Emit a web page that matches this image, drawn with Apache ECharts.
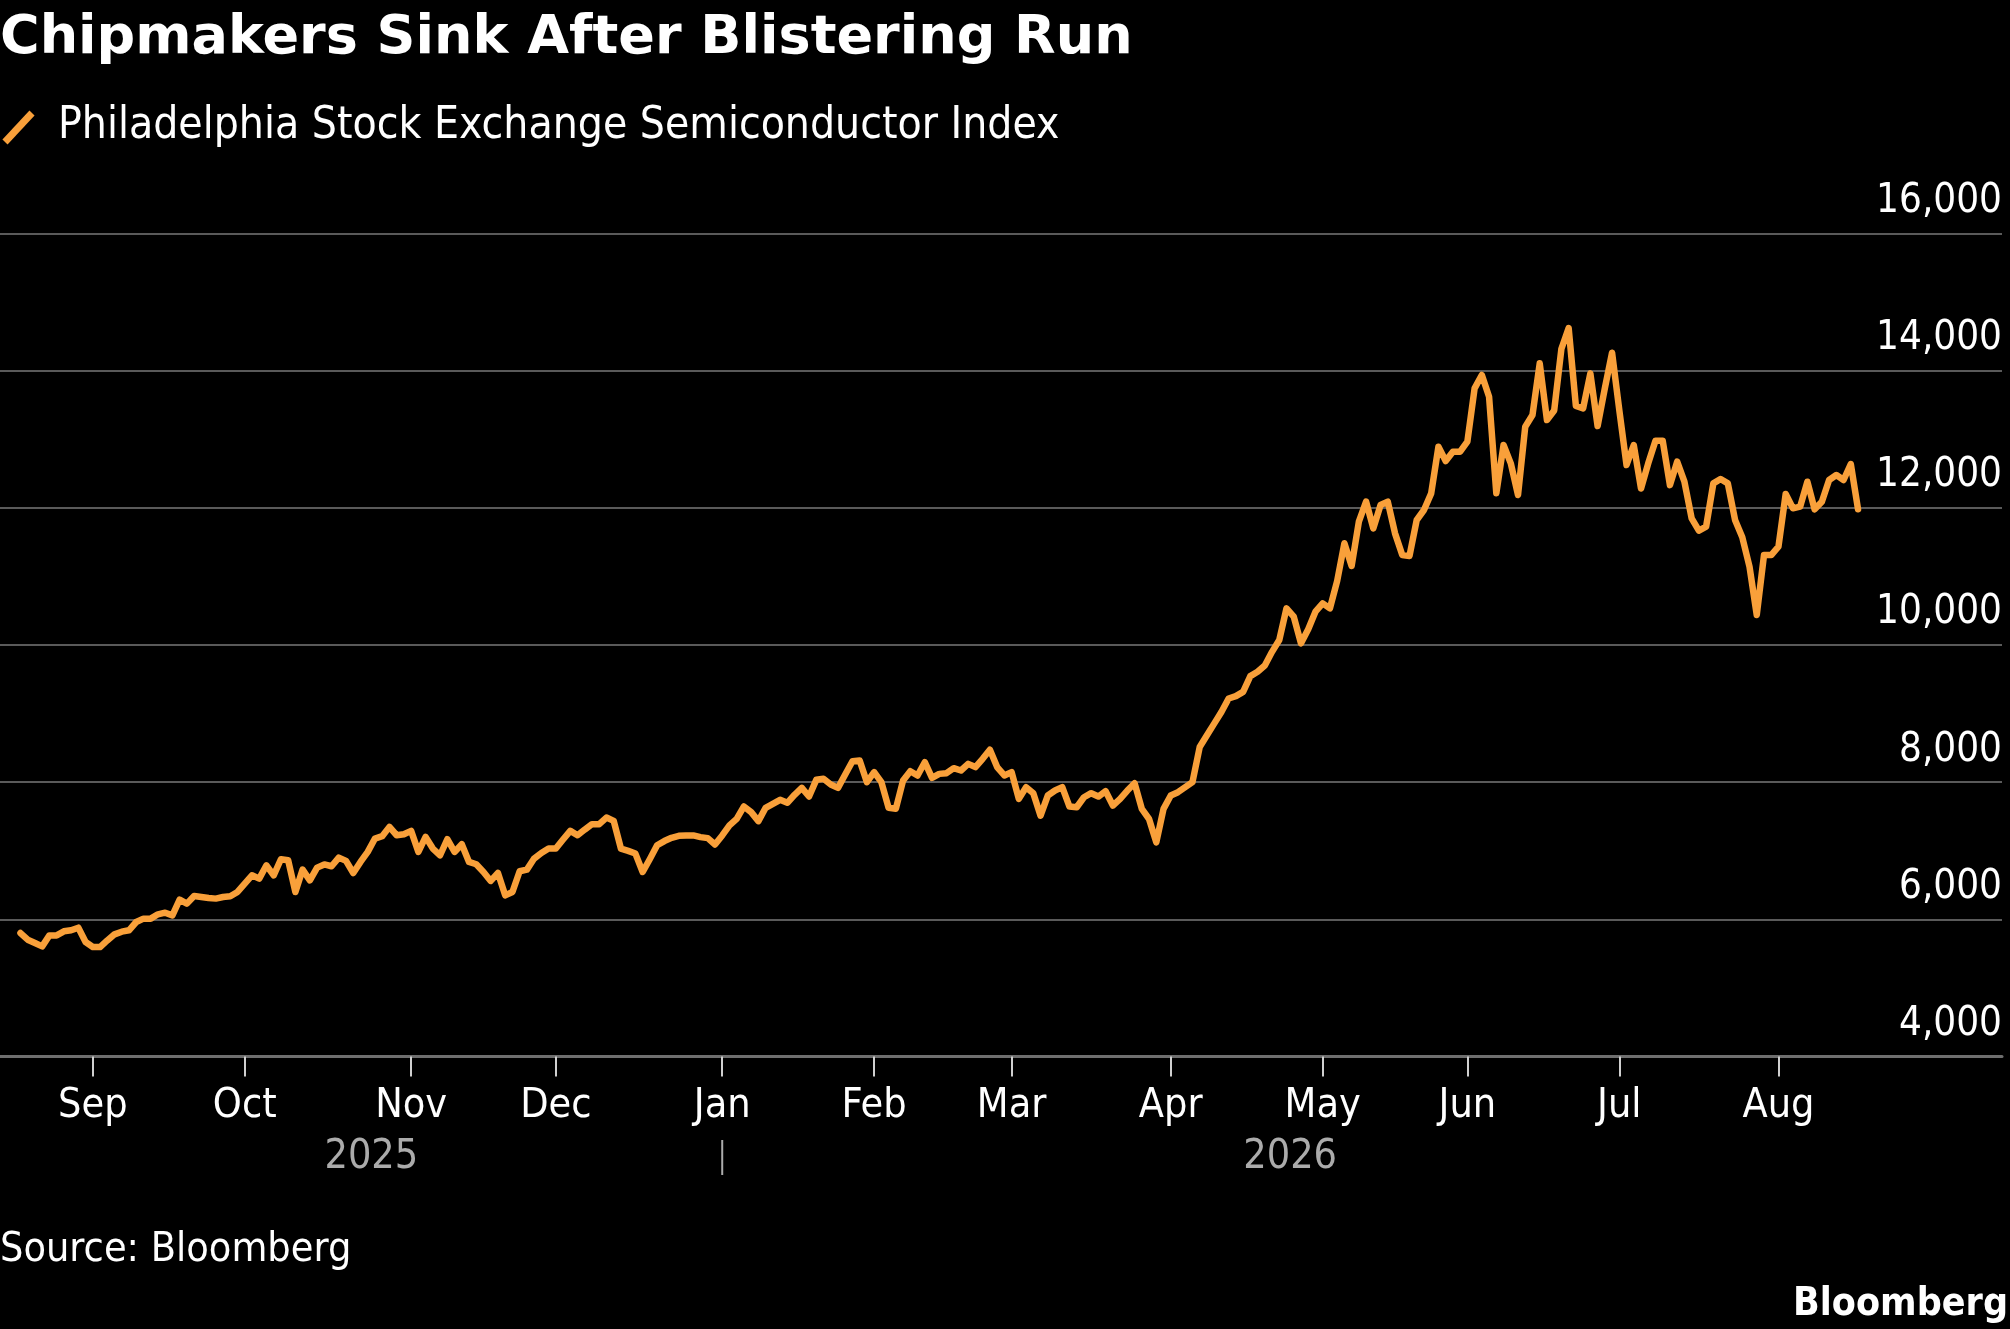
<!DOCTYPE html>
<html>
<head>
<meta charset="utf-8">
<title>Chipmakers Sink After Blistering Run</title>
<script src="https://cdn.jsdelivr.net/npm/echarts@6.0.0/dist/echarts.min.js"></script>
<style>
  html, body { margin: 0; padding: 0; background: #000; }
  #main { width: 2010px; height: 1329px; }
</style>
</head>
<body>
<div id="main"></div>
<script>
// trading days: weekdays from first to last date, minus market holidays
var firstDay = '2025-08-18';
var lastDay = '2026-08-18';
var holidays = ['2025-09-01', '2026-01-01', '2026-02-16', '2026-04-03', '2026-05-25', '2026-06-19', '2026-07-03'];
var monthNames = ['Jan', 'Feb', 'Mar', 'Apr', 'May', 'Jun', 'Jul', 'Aug', 'Sep', 'Oct', 'Nov', 'Dec'];
var yearLabels = ['2025', '2026'];
var yTicks = [4000, 6000, 8000, 10000, 12000, 14000, 16000];

// Philadelphia Stock Exchange Semiconductor Index, daily close
var sox = [
  5800, 5703, 5655, 5606, 5766, 5766, 5825, 5840, 5878, 5669,
  5596, 5596, 5693, 5781, 5820, 5840, 5961, 6010, 6010, 6073,
  6097, 6058, 6287, 6229, 6341, 6326, 6311, 6302, 6326, 6336,
  6399, 6521, 6642, 6594, 6788, 6642, 6876, 6861, 6399, 6725,
  6569, 6754, 6800, 6774, 6900, 6852, 6676, 6837, 6983, 7178,
  7212, 7348, 7226, 7241, 7290, 6983, 7202, 7032, 6934, 7168,
  6983, 7095, 6837, 6803, 6691, 6560, 6676, 6350, 6399, 6701,
  6725, 6886, 6968, 7032, 7032, 7163, 7290, 7226, 7309, 7387,
  7387, 7484, 7436, 7032, 6998, 6959, 6690, 6880, 7080, 7141,
  7189, 7218, 7223, 7223, 7199, 7184, 7092, 7223, 7369, 7466,
  7646, 7563, 7432, 7626, 7684, 7743, 7699, 7816, 7917, 7791,
  8034, 8049, 7966, 7917, 8112, 8306, 8316, 8000, 8146, 8000,
  7626, 7612, 8024, 8160, 8097, 8291, 8063, 8121, 8131, 8204,
  8170, 8267, 8220, 8341, 8473, 8220, 8098, 8146, 7756, 7927,
  7839, 7512, 7805, 7878, 7927, 7644, 7634, 7780, 7839, 7790,
  7868, 7659, 7756, 7878, 7985, 7610, 7463, 7122, 7610, 7805,
  7854, 7927, 8000, 8512, 8683, 8854, 9024, 9220, 9254, 9317,
  9546, 9610, 9700, 9900, 10073, 10535, 10413, 10024, 10229, 10486,
  10608, 10535, 10933, 11483, 11152, 11798, 12090, 11701, 12041, 12090,
  11628, 11312, 11298, 11823, 11968, 12211, 12892, 12683, 12819, 12819,
  12965, 13742, 13937, 13621, 12211, 12916, 12649, 12187, 13183, 13354,
  14107, 13281, 13420, 14320, 14620, 13485, 13451, 13961, 13193, 13742,
  14262, 13426, 12625, 12916, 12282, 12649, 12979, 12979, 12331, 12673,
  12381, 11847, 11667, 11726, 12357, 12420, 12357, 11823, 11570, 11142,
  10438, 11312, 11312, 11434, 12202, 11993, 12017, 12381, 11978, 12090,
  12406, 12479, 12406, 12639, 11978
];

var dates = [];
var t = Date.parse(firstDay + 'T00:00:00Z');
var tEnd = Date.parse(lastDay + 'T00:00:00Z');
while (t <= tEnd) {
    var d = new Date(t);
    var s = d.toISOString().slice(0, 10);
    if (d.getUTCDay() !== 0 && d.getUTCDay() !== 6 && holidays.indexOf(s) < 0) {
        dates.push(s);
    }
    t += 86400000;
}

// first trading day of each month gets a tick
var monthTicks = [];
var janIndex = -1;
for (var i = 1; i < dates.length; i++) {
    if (dates[i].slice(5, 7) !== dates[i - 1].slice(5, 7)) {
        monthTicks.push(i);
        if (dates[i].slice(5, 7) === '01') janIndex = i;
    }
}

var lineData = sox.map(function (v, i) { return [i, v]; });

var condensed = "'DejaVu Sans Condensed', 'DejaVu Sans', sans-serif";
var orange = '#f9a03a';

var myChart = echarts.init(document.getElementById('main'));
myChart.setOption({
    backgroundColor: '#000',
    animation: false,
    grid: {left: 0, right: 8, top: 233.5, bottom: 272.5},
    xAxis: {
        type: 'value',
        min: -2.83,
        max: 273.9,
        splitLine: {show: false},
        axisLine: {show: true, lineStyle: {color: '#6e6e6e', width: 3}},
        axisTick: {
            show: true,
            customValues: monthTicks,
            length: 20,
            lineStyle: {color: '#d0d0d0', width: 2}
        },
        axisLabel: {
            customValues: monthTicks,
            margin: 29,
            color: '#fff',
            fontFamily: condensed,
            fontSize: 41,
            formatter: function (v) {
                return monthNames[parseInt(dates[Math.round(v)].slice(5, 7), 10) - 1];
            }
        }
    },
    yAxis: {
        type: 'value',
        position: 'right',
        min: yTicks[0],
        max: yTicks[yTicks.length - 1],
        interval: 2000,
        axisLine: {show: false},
        axisTick: {show: false},
        splitLine: {lineStyle: {color: '#5a5a5a', width: 2}},
        axisLabel: {
            inside: true,
            margin: 0,
            color: '#fff',
            fontFamily: condensed,
            fontSize: 40,
            verticalAlign: 'bottom',
            lineHeight: 64,
            formatter: function (v) { return v.toLocaleString('en-US'); }
        }
    },
    series: [{
        name: 'Philadelphia Stock Exchange Semiconductor Index',
        type: 'line',
        data: lineData,
        showSymbol: false,
        symbol: 'none',
        lineStyle: {color: orange, width: 6.5, join: 'round', cap: 'round'}
    }]
});

// year labels under the month labels, centred on each year's span of data
var x0 = myChart.convertToPixel({xAxisIndex: 0}, 0);
var xJan = myChart.convertToPixel({xAxisIndex: 0}, janIndex);
var xEnd = myChart.convertToPixel({xAxisIndex: 0}, sox.length - 1);

myChart.setOption({
    graphic: [
        {
            type: 'text', left: 0, top: 12,
            style: {text: 'Chipmakers Sink After Blistering Run', fill: '#fff',
                font: "bold 54px 'DejaVu Sans', sans-serif"}
        },
        {
            type: 'line',
            shape: {x1: 5, y1: 142, x2: 32, y2: 113},
            style: {stroke: orange, lineWidth: 7}
        },
        {
            type: 'text', left: 58, top: 105,
            style: {text: 'Philadelphia Stock Exchange Semiconductor Index', fill: '#fff',
                font: '44px ' + condensed}
        },
        {
            type: 'text', x: (x0 + xJan) / 2, y: 1157,
            style: {text: yearLabels[0], fill: '#ababab', font: '41px ' + condensed,
                textAlign: 'center', textVerticalAlign: 'middle', align: 'center', verticalAlign: 'middle'}
        },
        {
            type: 'line',
            shape: {x1: xJan, y1: 1140, x2: xJan, y2: 1175},
            style: {stroke: '#ababab', lineWidth: 2}
        },
        {
            type: 'text', x: (xJan + xEnd) / 2, y: 1157,
            style: {text: yearLabels[1], fill: '#ababab', font: '41px ' + condensed,
                textAlign: 'center', textVerticalAlign: 'middle', align: 'center', verticalAlign: 'middle'}
        },
        {
            type: 'text', left: 0, top: 1230,
            style: {text: 'Source: Bloomberg', fill: '#fff', font: '41px ' + condensed}
        },
        {
            type: 'text', right: 2, top: 1285,
            style: {text: 'Bloomberg', fill: '#fff', font: "bold 39px " + condensed}
        }
    ]
});
</script>
</body>
</html>
